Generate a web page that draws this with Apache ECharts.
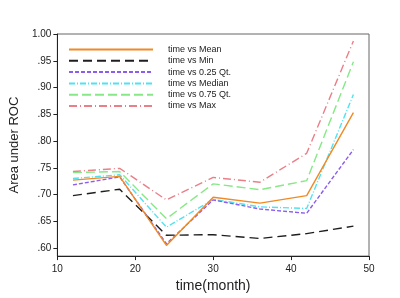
<!DOCTYPE html>
<html>
<head>
<meta charset="utf-8">
<script src="https://cdn.jsdelivr.net/npm/echarts@6/dist/echarts.min.js"></script>
<style>html,body{margin:0;padding:0;background:#fff}#c{width:400px;height:298px}</style>
</head>
<body>
<div id="c"></div>
<script>
var months = [12, 18, 24, 30, 36, 42, 48];
var seriesNames = ['time vs Mean', 'time vs Min', 'time vs 0.25 Qt.', 'time vs Median', 'time vs 0.75 Qt.', 'time vs Max'];
var meanVals   = [0.727, 0.734, 0.605, 0.695, 0.684, 0.698, 0.853];
var minVals    = [0.698, 0.710, 0.624, 0.625, 0.618, 0.627, 0.641];
var q25Vals    = [0.718, 0.733, 0.608, 0.690, 0.673, 0.665, 0.784];
var medianVals = [0.730, 0.737, 0.639, 0.691, 0.677, 0.674, 0.887];
var q75Vals    = [0.741, 0.743, 0.655, 0.720, 0.709, 0.726, 0.948];
var maxVals    = [0.743, 0.749, 0.690, 0.732, 0.723, 0.777, 0.987];
var yTicks = [0.60, 0.65, 0.70, 0.75, 0.80, 0.85, 0.90, 0.95, 1.00];
var xTicks = [10, 20, 30, 40, 50];

var allVals = [meanVals, minVals, q25Vals, medianVals, q75Vals, maxVals];
var colors = ['#f08a24', '#1e1e1e', '#8a5cf0', '#4fe3f0', '#86e886', '#ea7f88'];
var dashes = [null, [9, 5], [4, 2], [6, 2, 1, 2], [9, 4], [8, 3, 1, 3]];

function pairs(vals) { return months.map(function (m, i) { return [m, vals[i]]; }); }

var series = seriesNames.map(function (n, k) {
  return {
    name: n, type: 'line', data: pairs(allVals[k]), symbol: 'none',
    lineStyle: { color: colors[k], width: 1.4, type: dashes[k] || 'solid' },
    itemStyle: { color: colors[k] },
    z: 10 - k
  };
});

var chart = echarts.init(document.getElementById('c'));
chart.setOption({
  animation: false,
  backgroundColor: '#fff',
  textStyle: { fontFamily: 'Liberation Sans, Arial, sans-serif' },
  grid: { left: 52, right: 31, top: 34, bottom: 37, show: true, borderColor: '#666', borderWidth: 1, backgroundColor: 'transparent' },
  legend: {
    orient: 'vertical', left: 63, top: 40, itemWidth: 84, itemHeight: 10, itemGap: 2.3,
    data: seriesNames,
    itemStyle: { opacity: 0 },
    textStyle: { fontSize: 9, color: '#222', padding: [0, 0, 0, 10] }
  },
  xAxis: {
    type: 'value', min: 10, max: 50, interval: 10,
    name: 'time(month)', nameLocation: 'middle', nameGap: 18,
    nameTextStyle: { fontSize: 14, color: '#222' },
    axisLine: { lineStyle: { color: '#222', width: 1 } },
    axisTick: { show: true, inside: false, length: 4, lineStyle: { color: '#222' } },
    axisLabel: { fontSize: 10, color: '#222', margin: 8 },
    splitLine: { show: false }
  },
  yAxis: {
    type: 'value', min: 0.585, max: 1.0,
    name: 'Area under ROC', nameLocation: 'middle', nameGap: 32,
    nameTextStyle: { fontSize: 13, color: '#222' },
    axisLine: { show: true, lineStyle: { color: '#222', width: 1 } },
    axisTick: { show: true, inside: false, length: 4, customValues: yTicks, lineStyle: { color: '#222' } },
    axisLabel: {
      fontSize: 10, color: '#222', margin: 6, customValues: yTicks,
      formatter: function (v) { return v >= 0.999 ? '1.00' : v.toFixed(2).slice(1); }
    },
    splitLine: { show: false }
  },
  series: series
});
</script>
</body>
</html>
